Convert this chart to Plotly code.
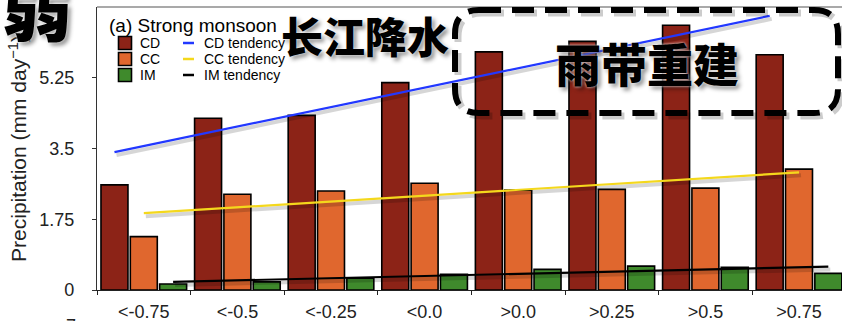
import plotly.graph_objects as go

# Monsoon index bins and precipitation (mm/day) per rain type
categories = ["<-0.75", "<-0.5", "<-0.25", "<0.0", ">0.0", ">0.25", ">0.5", ">0.75"]
cd_values = [2.60, 4.25, 4.32, 5.13, 5.89, 6.15, 6.55, 5.82]
cc_values = [1.32, 2.37, 2.45, 2.64, 2.47, 2.49, 2.52, 2.99]
im_values = [0.15, 0.20, 0.29, 0.39, 0.51, 0.59, 0.56, 0.41]

# Tendency lines: value at first and last bin
cd_trend = [3.41, 6.78]
cc_trend = [1.90, 2.91]
im_trend = [0.20, 0.58]

y_ticks = [0, 1.75, 3.5, 5.25]
y_tick_text = ["0", "1.75", "3.5", "5.25"]

CD_COLOR = "#8c2317"
CC_COLOR = "#e0672e"
IM_COLOR = "#3f8a2c"

W, H = 842, 321
ML, MR, MT, MB = 97, 0, 7, 31
PW, PH = W - ML - MR, H - MT - MB
CAT_PX = 93.6
X_RANGE = [-0.5, -0.5 + PW / CAT_PX]
Y_RANGE = [0, 7]
OFFSET = 29.3 / CAT_PX  # bar-centre offset inside a group


def px_x(px):
    return (px - ML) / PW


def px_y(py):
    return (H - MB - py) / PH


xs = list(range(len(categories)))
fig = go.Figure()

for name, vals, col in [("CD", cd_values, CD_COLOR), ("CC", cc_values, CC_COLOR), ("IM", im_values, IM_COLOR)]:
    fig.add_trace(go.Bar(
        x=xs, y=vals, name=name, marker=dict(color=col, line=dict(color="black", width=1.6)),
        showlegend=False,
    ))

y_per_px = (Y_RANGE[1] - Y_RANGE[0]) / PH
for name, trend, col, off in [("CD tendency", cd_trend, "#2238ff", -OFFSET),
                              ("CC tendency", cc_trend, "#f4d81c", 0.0),
                              ("IM tendency", im_trend, "#000000", OFFSET)]:
    tx = [xs[0] + off, xs[-1] + off]
    # soft drop shadow under the line
    fig.add_trace(go.Scatter(
        x=[v + 2 / CAT_PX for v in tx], y=[v - 3 * y_per_px for v in trend], mode="lines",
        line=dict(color="rgba(0,0,0,0.16)", width=4), showlegend=False, hoverinfo="skip",
    ))
    fig.add_trace(go.Scatter(
        x=tx, y=trend, mode="lines", name=name, line=dict(color=col, width=2.2), showlegend=False,
    ))

shapes = []
annotations = []

# Legend drawn by hand (two columns)
annotations.append(dict(text="(a) Strong monsoon", x=px_x(107), y=px_y(25), xref="paper", yref="paper",
                        xanchor="left", yanchor="middle", showarrow=False,
                        font=dict(size=19, color="black", family="Liberation Sans, Arial")))
rows = [43, 59, 75]
for (lab, col), ry in zip([("CD", CD_COLOR), ("CC", CC_COLOR), ("IM", IM_COLOR)], rows):
    shapes.append(dict(type="rect", xref="paper", yref="paper",
                       x0=px_x(118.5), x1=px_x(131.5), y0=px_y(ry + 6.5), y1=px_y(ry - 6.5),
                       fillcolor=col, line=dict(color="black", width=1.6)))
    annotations.append(dict(text=lab, x=px_x(138), y=px_y(ry), xref="paper", yref="paper",
                            xanchor="left", yanchor="middle", showarrow=False,
                            font=dict(size=14, color="black", family="Liberation Sans, Arial")))
for (lab, col), ry in zip([("CD tendency", "#2238ff"), ("CC tendency", "#f4d81c"), ("IM tendency", "#000000")], rows):
    shapes.append(dict(type="line", xref="paper", yref="paper",
                       x0=px_x(183), x1=px_x(194), y0=px_y(ry), y1=px_y(ry),
                       line=dict(color=col, width=2.5)))
    annotations.append(dict(text=lab, x=px_x(202), y=px_y(ry), xref="paper", yref="paper",
                            xanchor="left", yanchor="middle", showarrow=False,
                            font=dict(size=14, color="black", family="Liberation Sans, Arial")))


# Rounded dashed callout box
def rounded_path(l, t, r, b, rad, dx=0.0, dy=0.0):
    l, r, t, b = l + dx, r + dx, t + dy, b + dy
    rx = rad / PW
    ry = rad / PH
    L, R, T, B = px_x(l), px_x(r), px_y(t), px_y(b)
    return (f"M {L + rx},{T} L {R - rx},{T} Q {R},{T} {R},{T - ry} "
            f"L {R},{B + ry} Q {R},{B} {R - rx},{B} "
            f"L {L + rx},{B} Q {L},{B} {L},{B + ry} "
            f"L {L},{T - ry} Q {L},{T} {L + rx},{T} Z")


shapes.append(dict(type="path", xref="paper", yref="paper", path=rounded_path(455, 10, 838, 113, 24, 3, 3),
                   line=dict(color="rgba(0,0,0,0.2)", width=7, dash="22px,11px")))
shapes.append(dict(type="path", xref="paper", yref="paper", path=rounded_path(455, 10, 838, 113, 24),
                   line=dict(color="black", width=6, dash="22px,11px")))

cjk_font = "Noto Sans CJK SC, Noto Sans CJK TC, sans-serif"
cjk_shadow = "0px 0px 3px white, 3px 3px 4px rgba(0,0,0,0.45)"
annotations.append(dict(text="长江降水", x=px_x(365), y=px_y(34), xref="paper", yref="paper",
                        xanchor="center", yanchor="middle", showarrow=False,
                        font=dict(size=42, color="black", family=cjk_font, weight=900, shadow=cjk_shadow)))
annotations.append(dict(text="雨带重建", x=px_x(647), y=px_y(62), xref="paper", yref="paper",
                        xanchor="center", yanchor="middle", showarrow=False,
                        font=dict(size=46, color="black", family=cjk_font, weight=900, shadow=cjk_shadow)))
annotations.append(dict(text="弱", x=px_x(74), y=px_y(6), xref="paper", yref="paper",
                        xanchor="right", yanchor="middle", showarrow=False,
                        font=dict(size=70, color="black", family=cjk_font, weight=900, shadow=cjk_shadow)))
# top tick label of the panel below
annotations.append(dict(text="7", x=px_x(71), y=px_y(314), xref="paper", yref="paper",
                        xanchor="center", yanchor="top", showarrow=False,
                        font=dict(size=18, color="#222", family="Liberation Sans, Arial")))

fig.update_layout(
    width=W, height=H,
    margin=dict(l=ML, r=MR, t=MT, b=MB, pad=0, autoexpand=False),
    paper_bgcolor="white", plot_bgcolor="white",
    barmode="group", bargap=0.06, bargroupgap=0.08,
    showlegend=False,
    shapes=shapes, annotations=annotations,
    font=dict(family="Liberation Sans, Arial", color="#222"),
)
fig.update_xaxes(
    range=X_RANGE, tickmode="array", tickvals=xs, ticktext=categories, automargin=False,
    ticks="", tickfont=dict(size=18, color="#222"), ticklabelstandoff=5,
    showline=True, linecolor="#222", linewidth=1.2, mirror=False,
    showgrid=False, zeroline=False,
    minor=dict(tickmode="linear", tick0=-0.5, dtick=1, ticks="outside", ticklen=4, tickcolor="#222",
               tickwidth=1.2, showgrid=False),
)
fig.update_yaxes(
    range=Y_RANGE, tickmode="array", tickvals=y_ticks, ticktext=y_tick_text, automargin=False,
    ticks="outside", ticklen=4, tickcolor="#333", tickwidth=1.2,
    tickfont=dict(size=18, color="#222"), ticklabelstandoff=14,
    showline=True, linecolor="#333", linewidth=1.2, showgrid=False, zeroline=False,
    title=dict(text="Precipitation (mm day<sup>−1</sup>)", font=dict(size=21, color="#222"), standoff=6),
)
# top frame line
fig.add_shape(type="line", xref="paper", yref="paper", x0=0, x1=1, y0=1, y1=1,
              line=dict(color="#555", width=1.2), layer="below")

fig.write_html("out.html")
